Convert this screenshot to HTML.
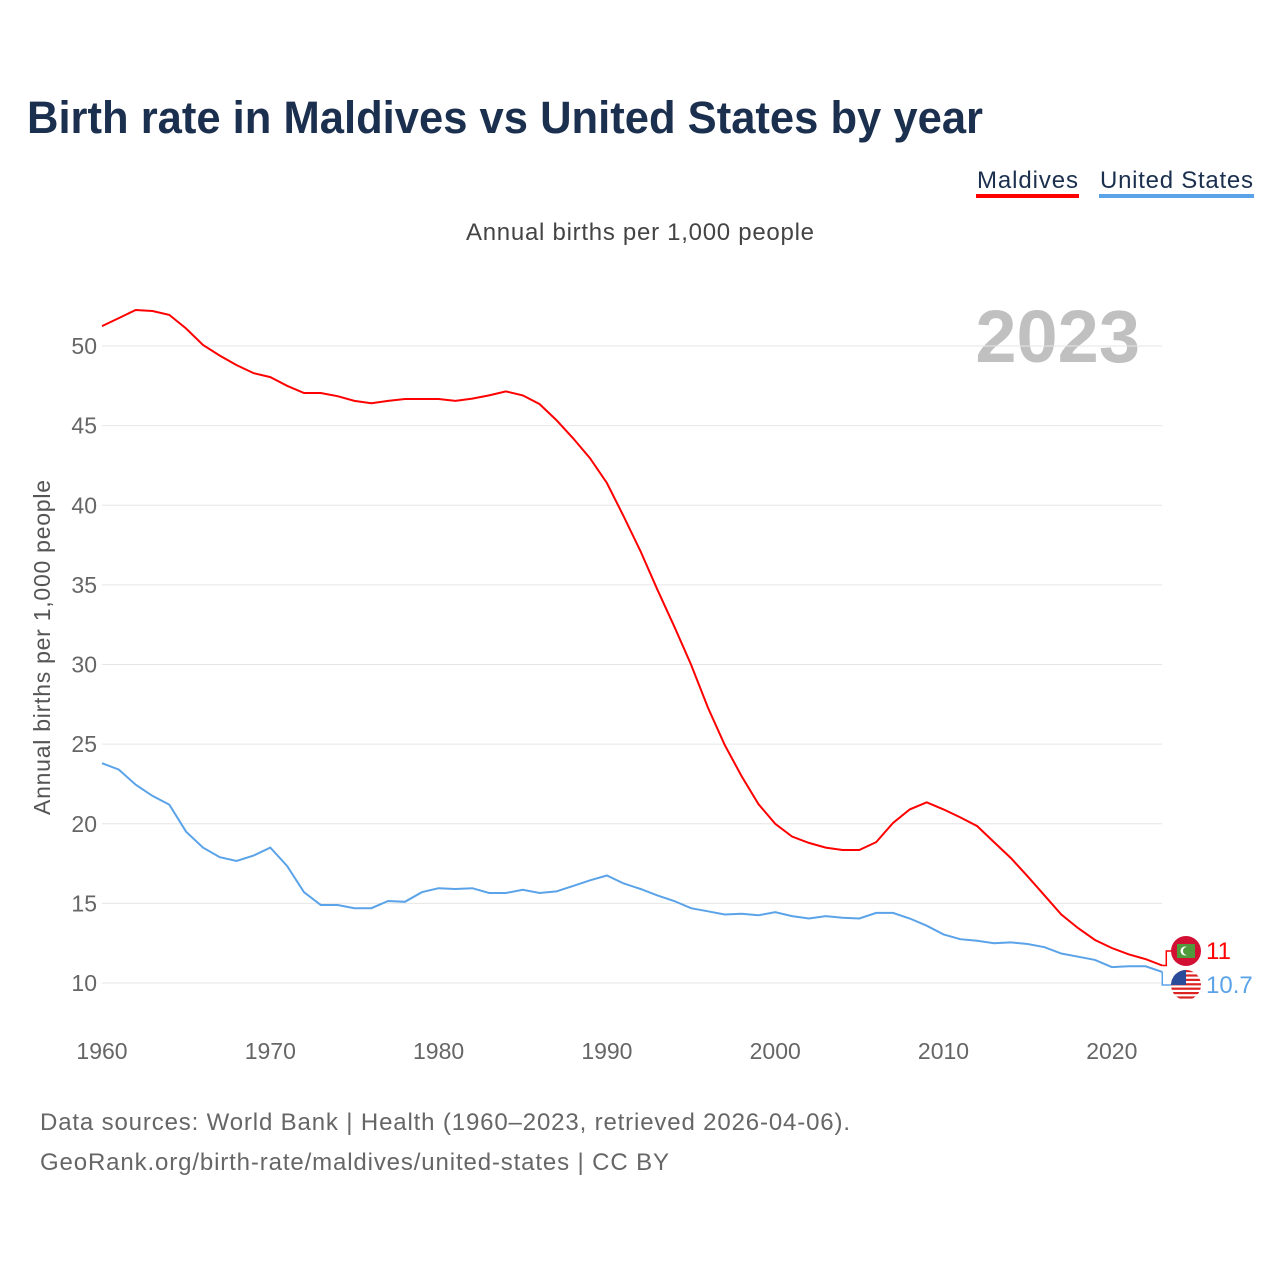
<!DOCTYPE html>
<html><head><meta charset="utf-8"><style>
body{margin:0;background:#fff;font-family:"Liberation Sans",sans-serif}
svg text{font-family:"Liberation Sans",sans-serif}
</style></head><body>
<svg id="chart" width="1280" height="1280" xmlns="http://www.w3.org/2000/svg">
<text x="27" y="133" font-size="45" font-weight="bold" fill="#1b2f4e" textLength="956" lengthAdjust="spacingAndGlyphs">Birth rate in Maldives vs United States by year</text>
<g><text x="977" y="188" font-size="24" fill="#1b2f4e" textLength="101">Maldives</text><rect x="976" y="194" width="103" height="4" fill="#ff0000"/></g>
<g><text x="1100" y="188" font-size="24" fill="#1b2f4e" textLength="153">United States</text><rect x="1099" y="194" width="155" height="4" fill="#5ba3e8"/></g>
<text x="466" y="240" font-size="24" fill="#444" textLength="348">Annual births per 1,000 people</text>
<text x="1140" y="362" font-size="74" font-weight="bold" fill="#c0c0c0" text-anchor="end">2023</text>
<text transform="translate(50,815) rotate(-90)" font-size="23" fill="#555" textLength="335">Annual births per 1,000 people</text>
<g id="grid"></g><g id="series"></g>
<text x="40" y="1130" font-size="24" fill="#666" textLength="810">Data sources: World Bank | Health (1960–2023, retrieved 2026-04-06).</text>
<text x="40" y="1170" font-size="24" fill="#666" textLength="629">GeoRank.org/birth-rate/maldives/united-states | CC BY</text>
</svg>
<script>
const years=[];for(let y=1960;y<=2023;y++)years.push(y);
const maldives=[51.25,51.75,52.26,52.2,51.95,51.1,50.06,49.4,48.8,48.3,48.05,47.5,47.05,47.05,46.85,46.55,46.4,46.55,46.67,46.67,46.67,46.55,46.7,46.9,47.15,46.9,46.35,45.35,44.2,42.95,41.4,39.3,37.1,34.7,32.4,30.0,27.3,24.95,23.0,21.24,20.0,19.2,18.8,18.5,18.35,18.35,18.85,20.05,20.9,21.35,20.9,20.4,19.85,18.85,17.85,16.7,15.5,14.3,13.45,12.7,12.2,11.8,11.5,11.1];
const usa=[23.8,23.4,22.45,21.75,21.2,19.5,18.5,17.9,17.66,18.0,18.5,17.35,15.7,14.9,14.9,14.7,14.7,15.15,15.1,15.7,15.95,15.9,15.95,15.65,15.65,15.85,15.65,15.75,16.1,16.45,16.75,16.25,15.9,15.5,15.15,14.7,14.5,14.3,14.35,14.25,14.45,14.2,14.05,14.2,14.1,14.05,14.4,14.4,14.05,13.6,13.05,12.75,12.65,12.5,12.55,12.45,12.25,11.85,11.65,11.45,11.0,11.05,11.05,10.7];
const yTicks=[10,15,20,25,30,35,40,45,50];
const xTicks=[1960,1970,1980,1990,2000,2010,2020];
const NS="http://www.w3.org/2000/svg";
const X=y=>102+(y-1960)*16.83;
const Y=v=>983-(v-10)*15.925;
function mk(t,a,p){const e=document.createElementNS(NS,t);for(const k in a)e.setAttribute(k,a[k]);p.appendChild(e);return e;}
const g=document.getElementById('grid');
yTicks.forEach(v=>{
 const l=mk('line',{x1:102,x2:1162,y1:Y(v),y2:Y(v),stroke:'#e6e6e6','stroke-width':1},g);
 
 
 const t=mk('text',{x:97,y:Y(v)+8,'font-size':23,fill:'#666','text-anchor':'end'},g);t.textContent=v;
 
 
});
xTicks.forEach(v=>{
 const t=mk('text',{x:X(v),y:1059,'font-size':23,fill:'#666','text-anchor':'middle'},g);t.textContent=v;
 
 
});
const s=document.getElementById('series');
function line(data,color,name){
 const d=data.map((v,i)=>(i?'L':'M')+X(years[i]).toFixed(1)+','+Y(v).toFixed(1)).join('');
 const p=mk('path',{d:d,fill:'none',stroke:color,'stroke-width':2},s);
 
 
}
line(usa,'#5ba3e8','line-united-states');
line(maldives,'#ff0000','line-maldives');
const lm=maldives[maldives.length-1],lu=usa[usa.length-1];
const ex=X(2023);
const cm=951,cu=985;
const l1=mk('path',{d:`M${ex},${Y(lm)}L${ex+4},${Y(lm)}L${ex+4},${cm}L${ex+12},${cm}`,fill:'none',stroke:'#ff0000','stroke-width':1.5},s);


const l2=mk('path',{d:`M${ex},${Y(lu)}L${ex},${cu}L${ex+12},${cu}`,fill:'none',stroke:'#5ba3e8','stroke-width':1.5},s);


const fm=mk('g',{},s);


mk('circle',{cx:1186,cy:cm,r:15,fill:'#d21034'},fm);
mk('rect',{x:1177,y:cm-7,width:18,height:14,fill:'#4f9a3a'},fm);
mk('circle',{cx:1185,cy:cm,r:4.5,fill:'#fff'},fm);
mk('circle',{cx:1187,cy:cm,r:4,fill:'#4f9a3a'},fm);
const fu=mk('g',{},s);


mk('clipPath',{id:'cc'},fu).appendChild(document.createElementNS(NS,'circle'));
const cc=fu.querySelector('clipPath circle');cc.setAttribute('cx',1186);cc.setAttribute('cy',cu);cc.setAttribute('r',15);
const fg=mk('g',{'clip-path':'url(#cc)'},fu);
mk('rect',{x:1171,y:cu-15,width:30,height:30,fill:'#fff'},fg);
for(let i=0;i<7;i++)mk('rect',{x:1171,y:cu-15+i*4.4,width:30,height:2.2,fill:'#d22'},fg);
mk('rect',{x:1171,y:cu-15,width:15,height:15,fill:'#2a4a9a'},fg);
const tm=mk('text',{x:1206,y:959,'font-size':24,fill:'#ff0000'},s);tm.textContent=lm===11.1?'11':lm;


const tu=mk('text',{x:1206,y:993,'font-size':24,fill:'#5ba3e8'},s);tu.textContent=lu;


</script>
</body></html>
